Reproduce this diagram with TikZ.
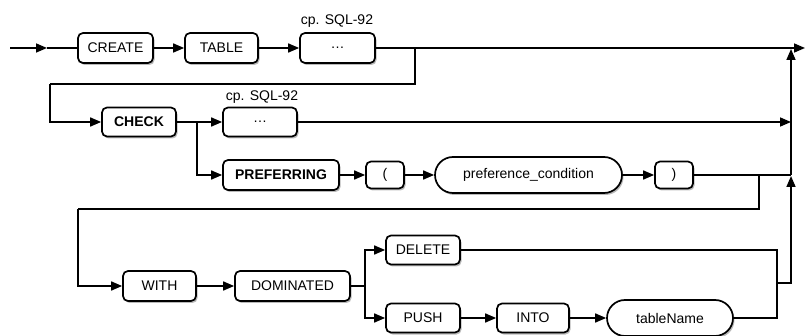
\documentclass[tikz,border=0pt]{standalone}
\usepackage{fontspec}
\setmainfont{Liberation Sans}
\usepackage{tikz}
\usetikzlibrary{arrows.meta}
\usetikzlibrary{shadows}
\usetikzlibrary{positioning}

\tikzset{
  kw/.style={draw, black, line width=1.7pt, rounded corners=5pt, fill=white,
    drop shadow={shadow xshift=1.5pt, shadow yshift=-2pt, fill=black!50, opacity=0.55},
    inner sep=0pt, minimum height=30pt, font=\fontsize{14}{16}\selectfont},
  rule/.style={kw, rounded corners=18pt, minimum height=36pt},
  wire/.style={black, line width=1.6pt},
  wireto/.style={wire, -{Triangle[length=11pt,width=9pt]}},
  note/.style={font=\fontsize{14}{16}\selectfont}
}

\begin{document}
\begin{tikzpicture}[x=1pt, y=-1pt]

\useasboundingbox (0,0) rectangle (805,336);

\coordinate(S) at (10, 48);
\coordinate(T) at (47, 48);
\coordinate(E) at (805, 48);
\coordinate(W1) at (415, 48);
\coordinate(B1) at (50, 84);
\coordinate(F1) at (197, 122);
\coordinate(J1) at (791, 122);
\coordinate(J2) at (791, 175);
\coordinate(J3) at (791, 176);
\coordinate(R) at (791, 49);
\coordinate(F2) at (759, 175);
\coordinate(B2) at (78, 209);
\coordinate(F3) at (365, 286);
\coordinate(M) at (777, 283);

\node[kw, minimum width=75pt] (create) at (115.5, 48) {CREATE};
\node[kw, minimum width=73pt] (table) at (221.5, 48) {TABLE};
\node[kw, minimum width=75pt] (dots1) at (337.5, 48) {\dots};
\node[note] (cp1) at (337, 21) {cp. SQL-92};

\node[kw, minimum width=74pt, minimum height=29pt] (check) at (139, 122) {\textbf{CHECK}};
\node[kw, minimum width=74pt, minimum height=29pt] (dots2) at (260, 122) {\dots};
\node[note] (cp2) at (262, 97) {cp. SQL-92};

\node[kw, minimum width=116pt] (prefer) at (281, 175) {\textbf{PREFERRING}};
\node[kw, minimum width=38pt, minimum height=27pt] (lpar) at (385, 175) {(};
\node[rule, minimum width=187pt] (cond) at (528.5, 175) {preference\_condition};
\node[kw, minimum width=38pt, minimum height=27pt] (rpar) at (674, 175) {)};

\node[kw, minimum width=73pt] (with) at (159.5, 286) {WITH};
\node[kw, minimum width=115pt] (dom) at (292.5, 286) {DOMINATED};
\node[kw, minimum width=74pt, minimum height=29pt] (delete) at (423, 250) {DELETE};
\node[kw, minimum width=74pt, minimum height=29pt] (push) at (423, 318) {PUSH};
\node[kw, minimum width=72pt, minimum height=29pt] (into) at (533, 318) {INTO};
\node[rule, minimum width=126pt] (tname) at (670, 318) {tableName};

% first line
\draw[wireto] (S) -- (T);
\draw[wire] (T) -- (create);
\draw[wireto] (create) -- (table);
\draw[wireto] (table) -- (dots1);
\draw[wireto] (dots1) -- (E);
\draw[wire] (W1) |- (B1);
\draw[wireto] (B1) |- (check);

% check
\draw[wire] (check) -- (F1);
\draw[wireto] (F1) -- (dots2);
\draw[wireto] (F1) |- (prefer);
\draw[wireto] (dots2) -- (J1);
\draw[wireto] (prefer) -- (lpar);
\draw[wireto] (lpar) -- (cond);
\draw[wireto] (cond) -- (rpar);
\draw[wire] (rpar) -- (J2);
\draw[wireto] (J2) -- (R);

% with dominated
\draw[wire] (F2) |- (B2);
\draw[wireto] (B2) |- (with);
\draw[wireto] (with) -- (dom);
\draw[wire] (dom) -- (F3);
\draw[wireto] (F3) |- (delete);
\draw[wireto] (F3) |- (push);
\draw[wireto] (push) -- (into);
\draw[wireto] (into) -- (tname);
\draw[wire] (delete) -| (M);
\draw[wire] (tname) -| (M);
\draw[wireto] (M) -| (J3);

\end{tikzpicture}
\end{document}
